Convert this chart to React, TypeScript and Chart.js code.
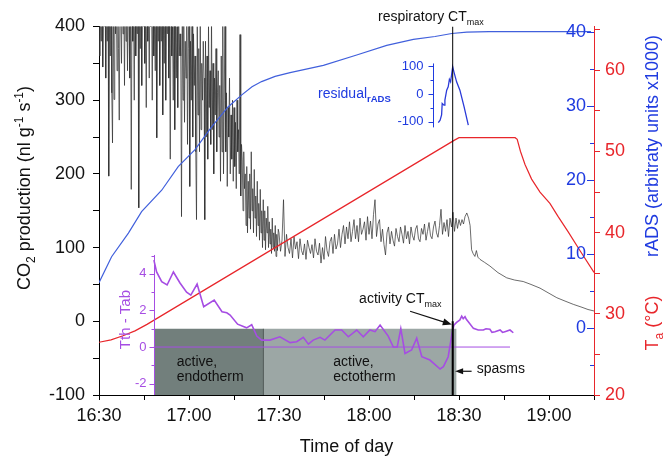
import React, { useEffect, useRef } from "react";
import { Chart, registerables } from "chart.js";

Chart.register(...registerables);

const FONT = "'Liberation Sans', Arial, Helvetica, sans-serif";

// ---- colours ----
const BLACK = "#111111";
const RED = "#e8262b";
const BLUE_TXT = "#1f3be0";
const BLUE_LINE = "#4160dc";
const PURPLE = "#a64de3";
const DARK_BOX = "#727f7c";
const LIGHT_BOX = "#9ca7a5";

// ---- x axis: minutes after 16:30 ----
const timeTickLabels = ["16:30", "17:00", "17:30", "18:00", "18:30", "19:00"];
const timeMax = 165;

// ---- CO2 production (nl g-1 s-1) ----
// 16:30-17:30, sampled every 0.25 min
const co2EarlyStart = 0;
const co2EarlyStep = 0.25;
const co2Early = [
  420, 360, 440, 380, 470, 345, 430, 400, 460, 330, 450, 380, 470, 197, 440, 360, 480, 310, 242, 450,
  301, 470, 390, 440, 340, 490, 370, 273, 460, 410, 350, 480, 390, 440, 320, 470, 380, 430, 340, 460,
  400, 330, 470, 179, 450, 380, 430, 300, 490, 360, 420, 390, 460, 154, 440, 370, 480, 320, 450, 400,
  470, 350, 430, 290, 480, 380, 440, 330, 470, 400, 450, 300, 490, 360, 420, 340, 460, 249, 440, 380,
  470, 320, 430, 380, 460, 280, 420, 350, 480, 300, 440, 390, 460, 330, 410, 220, 450, 360, 400, 300,
  440, 260, 420, 330, 400, 290, 450, 360, 390, 360, 142, 430, 300, 410, 270, 380, 330, 420, 240, 370,
  430, 183, 380, 300, 410, 250, 390, 320, 360, 230, 138, 400, 280, 370, 230, 410, 260, 350, 300, 380,
  330, 138, 380, 250, 360, 220, 400, 290, 340, 240, 410, 260, 350, 200, 330, 280, 370, 230, 310, 340,
  250, 320, 190, 360, 230, 420, 200, 300, 420, 230, 310, 183, 290, 250, 330, 200, 280, 220, 300, 190,
  290, 210, 270, 180, 300, 230, 260, 200, 389, 170, 240, 219, 150, 230, 180, 200, 130, 210, 120, 190,
  140, 200, 125, 230, 150, 180, 120, 206, 140, 170, 115, 190, 130, 160, 110, 179, 120, 150, 100, 165,
  110, 150, 97, 140, 120, 156, 100, 135, 105, 125, 92, 140, 100, 120, 95, 130, 88, 118, 96, 125,
];
// 17:30-18:30, sampled every 0.5 min
const co2LateStart = 60;
const co2LateStep = 0.5;
const co2Late = [
  120, 95, 110, 165, 88, 118, 100, 92, 112, 86,
  115, 98, 108, 85, 112, 96, 90, 105, 84, 110,
  100, 92, 104, 86, 112, 95, 90, 106, 79, 100,
  84, 115, 96, 88, 108, 114, 92, 118, 98, 105,
  125, 100, 118, 130, 105, 128, 112, 135, 108, 122,
  138, 112, 130, 108, 140, 118, 125, 135, 110, 142,
  118, 136, 112, 145, 165, 115, 132, 138, 108, 125,
  104, 90, 120, 128, 105, 122, 110, 102, 126, 115,
  108, 128, 118, 106, 130, 112, 122, 105, 128, 116,
  110, 125, 130, 112, 108, 126, 118, 132, 110, 122,
  134, 116, 112, 128, 136, 120, 114, 130, 152, 118,
  134, 122, 138, 115, 140, 128, 148, 122, 140, 126,
  138,
];
const co2TailTimes = [120.5, 121, 121.5, 122, 122.6, 123.2, 123.7, 124.2, 124.7, 125.3, 125.8, 126.3, 127, 128.5, 130.3, 133, 135.9, 138.5, 141.4, 144, 147, 150, 152.6, 155, 158.1, 161, 163, 165];
const co2TailValues = [130, 138, 132, 142, 147, 140, 130, 97, 92, 88, 96, 87, 84, 80, 75, 66, 59, 56, 54, 50, 45, 38, 32, 28, 23, 19, 16, 14];

// ---- rADS (arbitrary units x1000) ----
const radsTimes = [0, 4.2, 9.8, 14.2, 20.9, 26.4, 32, 37.6, 43.1, 47.6, 51, 54.2, 58.7, 63.7, 74.8, 85.9, 95.9, 104.8, 112, 117.6, 122.6, 130, 164];
const radsValues = [6.1, 9.6, 12.8, 15.7, 18.6, 21.8, 24.1, 27.2, 29.9, 31.5, 32.6, 33.3, 34.0, 34.5, 35.5, 36.9, 38.2, 39.0, 39.4, 39.8, 40.0, 40.05, 40.05];

// ---- ambient temperature Ta (°C) ----
const taTimes = [0, 4, 8, 12, 16, 118.5, 120, 138.7, 139.4, 140.5, 142, 144.2, 147, 150.3, 153, 156.4, 160.3, 165];
const taValues = [26.5, 26.8, 27.3, 27.9, 28.7, 51.4, 51.7, 51.7, 51.5, 50.0, 48.4, 46.6, 45.0, 43.6, 42.0, 40.1, 37.8, 35.1];

// ---- Tth - Tab ----
const dTTimes = [18.3, 19.2, 20.9, 22.7, 24.8, 27, 29.2, 30.6, 32.7, 34.9, 38.4, 41, 42.6, 43.7, 46.2, 49.2, 50.9, 52.6, 54.2, 57, 60.3, 63.7, 65.9, 68.1, 69.8, 71.4, 73.7, 75.3, 78.7, 80.9, 83.1, 85.9, 88.1, 90.3, 92, 93.7, 96.4, 98.1, 99.4, 100.6, 102, 104.2, 105.9, 107.6, 110.3, 113.7, 114.8, 116.4, 117.6, 118.3, 119.2, 120.3, 120.9, 121.4, 122, 122.5, 123.1, 124.8, 126.4, 128.1, 129, 130.3, 131, 132, 133.7, 134.5, 135.3, 137, 138.1];
const dTValues = [4.75, 4.1, 3.57, 3.39, 4.1, 3.5, 3.0, 2.84, 3.44, 2.2, 2.57, 1.93, 1.87, 1.75, 1.25, 1.05, 1.22, 0.6, 0.38, 0.38, 0.56, 0.24, 0.29, 0.53, 0.16, 0.38, 0.53, 0.38, 0.93, 0.93, 0.56, 0.93, 0.56, 0.93, 0.84, 1.2, 0.6, 0.0, 0.0, 1.0, -0.35, -0.16, 0.48, -0.53, -0.71, -1.2, -1.07, -0.53, 0.66, 1.2, 1.35, 1.48, 1.69, 1.55, 1.66, 1.5, 1.38, 1.02, 0.93, 0.93, 1.0, 0.97, 0.8, 0.84, 0.93, 0.8, 0.84, 0.93, 0.78];
const dTZeroSpan = [18.3, 137];
const dTAxisTime = 18.3;
const dTAxisTop = 5.03;
const dTTicks = [-2, 0, 2, 4];
const dTMinorTicks = [-1, 1, 3, 5];

// ---- residual rADS inset ----
const residTimes = [113.1, 113.7, 114.2, 114.4, 115, 115.3, 115.9, 116.4, 116.8, 117.2, 117.9, 118.3, 119.2, 120.3, 121.7, 123.1];
const residValues = [-103, -94, -75, -34, -40, -22, 14, 26, 53, 44, 98, 80, 44, 14, -46, -112];
const residAxisTime = 111.3;
const residAxisSpan = [-120, 110];
const residTicks = [-100, 0, 100];
const residMinorTicks = [-50, 50];

// ---- rADS right-hand ticks ----
const radsTicks = [0, 10, 20, 30, 40];
const radsMinorTicks = [-5, 5, 15, 25, 35];

// ---- events / phases ----
const ctmaxTime = 117.9;
const endothermPhase = [18.3, 54.8];
const ectothermPhase = [54.8, 119.2];
const phaseTop = 1.0;

type Seg = { t: string; size: number; dy?: number; bold?: boolean };

function segFont(s: Seg) {
  return `${s.bold ? "bold " : ""}${s.size}px ${FONT}`;
}
function richWidth(ctx: CanvasRenderingContext2D, segs: Seg[]) {
  let w = 0;
  for (const s of segs) {
    ctx.font = segFont(s);
    w += ctx.measureText(s.t).width;
  }
  return w;
}
function drawRich(ctx: CanvasRenderingContext2D, segs: Seg[], x: number, y: number, color: string, rot = 0, align: "left" | "center" = "left") {
  ctx.save();
  ctx.translate(x, y);
  if (rot) ctx.rotate(rot);
  ctx.fillStyle = color;
  ctx.textBaseline = "alphabetic";
  ctx.textAlign = "left";
  let cx = align === "center" ? -richWidth(ctx, segs) / 2 : 0;
  for (const s of segs) {
    ctx.font = segFont(s);
    ctx.fillText(s.t, cx, s.dy || 0);
    cx += ctx.measureText(s.t).width;
  }
  ctx.restore();
}
function arrow(ctx: CanvasRenderingContext2D, x1: number, y1: number, x2: number, y2: number, head = 9, w = 3.5) {
  const a = Math.atan2(y2 - y1, x2 - x1);
  const c = Math.cos(a), s = Math.sin(a);
  ctx.beginPath();
  ctx.moveTo(x1, y1);
  ctx.lineTo(x2 - head * c * 0.8, y2 - head * s * 0.8);
  ctx.stroke();
  ctx.beginPath();
  ctx.moveTo(x2, y2);
  ctx.lineTo(x2 - head * c + w * s, y2 - head * s - w * c);
  ctx.lineTo(x2 - head * c - w * s, y2 - head * s + w * c);
  ctx.closePath();
  ctx.fill();
}

const overlay = {
  id: "overlay",
  afterDraw(chart: any) {
    const { ctx, chartArea: ca, scales } = chart;
    const xs = scales.x, ys = scales.y, yB = scales.yB, yP = scales.yP, yR = scales.yR;
    const X = (t: number) => xs.getPixelForValue(t);
    const Y = (v: number) => ys.getPixelForValue(v);
    const hl = (x1: number, y: number, x2: number) => {
      const yy = Math.round(y) + 0.5;
      ctx.beginPath();
      ctx.moveTo(x1, yy);
      ctx.lineTo(x2, yy);
      ctx.stroke();
    };
    ctx.save();
    ctx.lineWidth = 1;

    // rADS axis (ticks pointing inward from the right axis line)
    ctx.strokeStyle = BLUE_TXT;
    ctx.fillStyle = BLUE_TXT;
    radsTicks.forEach((v) => hl(ca.right - 7, yB.getPixelForValue(v), ca.right));
    radsMinorTicks.forEach((v) => hl(ca.right - 4, yB.getPixelForValue(v), ca.right));
    ctx.font = `18px ${FONT}`;
    ctx.textAlign = "right";
    ctx.textBaseline = "middle";
    radsTicks.forEach((v) => ctx.fillText(String(v), ca.right - 8, yB.getPixelForValue(v)));

    // Tth - Tab inset axis
    const px = Math.round(X(dTAxisTime)) + 0.5;
    ctx.strokeStyle = PURPLE;
    ctx.fillStyle = PURPLE;
    ctx.beginPath();
    ctx.moveTo(px, yP.getPixelForValue(dTAxisTop));
    ctx.lineTo(px, ca.bottom);
    ctx.stroke();
    dTTicks.forEach((v) => hl(px - 5, yP.getPixelForValue(v), px));
    dTMinorTicks.forEach((v) => hl(px - 3, yP.getPixelForValue(v), px));
    ctx.font = `13px ${FONT}`;
    ctx.textAlign = "right";
    ctx.textBaseline = "middle";
    dTTicks.forEach((v) => ctx.fillText(String(v), px - 8, yP.getPixelForValue(v)));
    drawRich(ctx, [{ t: "Tth - Tab", size: 15 }], X(8.4) + 5.5, Y(2.3), PURPLE, -Math.PI / 2, "center");

    // residual inset axis
    const rx = Math.round(X(residAxisTime)) + 0.5;
    ctx.strokeStyle = BLUE_TXT;
    ctx.fillStyle = BLUE_TXT;
    ctx.beginPath();
    ctx.moveTo(rx, yR.getPixelForValue(residAxisSpan[1]));
    ctx.lineTo(rx, yR.getPixelForValue(residAxisSpan[0]));
    ctx.stroke();
    residTicks.forEach((v) => hl(rx - 5, yR.getPixelForValue(v), rx));
    residMinorTicks.forEach((v) => hl(rx - 3, yR.getPixelForValue(v), rx));
    ctx.font = `13px ${FONT}`;
    ctx.textAlign = "right";
    ctx.textBaseline = "middle";
    residTicks.forEach((v) => ctx.fillText(String(v), rx - 10, yR.getPixelForValue(v)));
    drawRich(ctx, [{ t: "residual", size: 14 }, { t: "rADS", size: 9.5, dy: 4, bold: true }], X(73), Y(303), BLUE_TXT);

    // annotations
    drawRich(ctx, [{ t: "respiratory CT", size: 14 }, { t: "max", size: 9, dy: 4 }], X(93), Y(407), BLACK);
    drawRich(ctx, [{ t: "activity CT", size: 14 }, { t: "max", size: 9, dy: 4 }], X(86.7), Y(25), BLACK);
    drawRich(ctx, [{ t: "spasms", size: 14 }], X(125.9), Y(-70), BLACK);
    drawRich(ctx, [{ t: "active,", size: 14 }], X(25.9), Y(-60), BLACK);
    drawRich(ctx, [{ t: "endotherm", size: 14 }], X(25.9), Y(-81.4), BLACK);
    drawRich(ctx, [{ t: "active,", size: 14 }], X(78.1), Y(-60), BLACK);
    drawRich(ctx, [{ t: "ectotherm", size: 14 }], X(78.1), Y(-81.4), BLACK);
    ctx.strokeStyle = BLACK;
    ctx.fillStyle = BLACK;
    ctx.lineWidth = 1.2;
    arrow(ctx, X(103.7), Y(13.6), X(117.6), Y(-4.5));
    arrow(ctx, X(124.2), Y(-67.8), X(118.7), Y(-67.8), 8, 3);

    // axis titles
    drawRich(
      ctx,
      [
        { t: "CO", size: 18 },
        { t: "2", size: 12, dy: 5 },
        { t: " production (nl g", size: 18 },
        { t: "-1", size: 12, dy: -7 },
        { t: " s", size: 18 },
        { t: "-1", size: 12, dy: -7 },
        { t: ")", size: 18 },
      ],
      30,
      188,
      BLACK,
      -Math.PI / 2,
      "center"
    );
    drawRich(ctx, [{ t: "rADS (arbitraty units x1000)", size: 18 }], 657.5, 146, BLUE_TXT, -Math.PI / 2, "center");
    drawRich(ctx, [{ t: "T", size: 18 }, { t: "a", size: 12, dy: 5 }, { t: " (°C)", size: 18 }], 657.5, 323, RED, -Math.PI / 2, "center");

    ctx.restore();
  },
};

function pts(times: number[], values: number[]) {
  return times.map((t, i) => ({ x: t, y: values[i] }));
}
function sampled(start: number, step: number, values: number[]) {
  return values.map((v, i) => ({ x: start + i * step, y: v }));
}

export default function App() {
  const ref = useRef<HTMLCanvasElement>(null);
  useEffect(() => {
    const co2Points = sampled(co2EarlyStart, co2EarlyStep, co2Early)
      .concat(sampled(co2LateStart, co2LateStep, co2Late))
      .concat(pts(co2TailTimes, co2TailValues));
    const common = { pointRadius: 0, pointHoverRadius: 0, tension: 0 };
    const chart = new Chart(ref.current as HTMLCanvasElement, {
      type: "line",
      data: {
        datasets: [
          { ...common, label: "endotherm", data: [{ x: endothermPhase[0], y: phaseTop }, { x: endothermPhase[1], y: phaseTop }], yAxisID: "yP", borderWidth: 0, borderColor: "rgba(0,0,0,0)", backgroundColor: DARK_BOX, fill: "start", order: 10 },
          { ...common, label: "ectotherm", data: [{ x: ectothermPhase[0], y: phaseTop }, { x: ectothermPhase[1], y: phaseTop }], yAxisID: "yP", borderWidth: 0, borderColor: "rgba(0,0,0,0)", backgroundColor: LIGHT_BOX, fill: "start", order: 9 },
          { ...common, label: "phase split", data: [{ x: endothermPhase[1], y: -2.62 }, { x: endothermPhase[1], y: phaseTop }], yAxisID: "yP", borderWidth: 1, borderColor: "#4c5553", order: 8 },
          { ...common, label: "CO2", data: co2Points, yAxisID: "y", borderColor: "rgba(45,45,45,0.7)", borderWidth: 1, order: 6 },
          { ...common, label: "rADS", data: pts(radsTimes, radsValues), yAxisID: "yB", borderColor: BLUE_LINE, borderWidth: 1.2, order: 5 },
          { ...common, label: "Ta", data: pts(taTimes, taValues), yAxisID: "yT", borderColor: RED, borderWidth: 1.2, order: 4 },
          { ...common, label: "zero", data: [{ x: dTZeroSpan[0], y: 0 }, { x: dTZeroSpan[1], y: 0 }], yAxisID: "yP", borderColor: PURPLE, borderWidth: 1, order: 3 },
          { ...common, label: "Tth-Tab", data: pts(dTTimes, dTValues), yAxisID: "yP", borderColor: PURPLE, borderWidth: 1.6, order: 2 },
          { ...common, label: "residual", data: pts(residTimes, residValues), yAxisID: "yR", borderColor: "#2a3ad8", borderWidth: 1.3, order: 1 },
          { ...common, label: "CTmax", data: [{ x: ctmaxTime, y: -100 }, { x: ctmaxTime, y: 400 }], yAxisID: "y", borderColor: "#000", borderWidth: 1, order: 0 },
          { ...common, label: "CTmax low", data: [{ x: ctmaxTime, y: -100 }, { x: ctmaxTime, y: 0 }], yAxisID: "y", borderColor: "#000", borderWidth: 2, order: 0 },
        ],
      },
      options: {
        responsive: false,
        devicePixelRatio: 1,
        animation: false,
        events: [],
        layout: { padding: { top: 26.5, left: 0, right: 0, bottom: 0 }, autoPadding: false },
        plugins: { legend: { display: false }, tooltip: { enabled: false }, title: { display: false } },
        scales: {
          x: {
            type: "linear",
            position: "bottom",
            min: 0,
            max: timeMax,
            ticks: {
              stepSize: 15,
              autoSkip: false,
              maxRotation: 0,
              includeBounds: false,
              padding: 5,
              color: BLACK,
              font: { size: 18, family: FONT },
              callback: (v: any) => (Math.round(v) % 30 === 0 ? timeTickLabels[Math.round(v) / 30] : ""),
            },
            grid: { drawOnChartArea: false, drawTicks: true, tickLength: 5, color: "#000" },
            border: { color: "#000", width: 1 },
            title: { display: true, text: "Time of day", color: BLACK, font: { size: 18, family: FONT }, padding: { top: 0, bottom: 9 } },
            afterFit: (s: any) => { s.height = 72; },
          },
          y: {
            type: "linear",
            position: "left",
            min: -100,
            max: 400,
            ticks: {
              stepSize: 50,
              autoSkip: false,
              includeBounds: false,
              padding: 8,
              color: BLACK,
              font: { size: 18, family: FONT },
              callback: (v: any) => (Math.round(v) % 100 === 0 ? String(Math.round(v)) : ""),
            },
            grid: { drawOnChartArea: false, drawTicks: true, tickLength: 6, color: "#000" },
            border: { color: "#000", width: 1 },
            afterFit: (s: any) => { s.width = 99; },
          },
          yT: {
            type: "linear",
            position: "right",
            min: 20,
            max: 65.4,
            ticks: {
              stepSize: 5,
              autoSkip: false,
              includeBounds: false,
              padding: 5,
              color: RED,
              font: { size: 18, family: FONT },
              callback: (v: any) => (Math.round(v) % 10 === 0 ? String(Math.round(v)) : ""),
            },
            grid: { drawOnChartArea: false, drawTicks: true, tickLength: 6, color: RED },
            border: { color: RED, width: 1 },
            afterFit: (s: any) => { s.width = 76; },
          },
          yB: { type: "linear", display: false, min: -9.1, max: 40.75 },
          yP: { type: "linear", display: false, min: -2.62, max: 17.51 },
          yR: { type: "linear", display: false, min: -1083, max: 243 },
        },
      } as any,
      plugins: [overlay],
    } as any);
    return () => chart.destroy();
  }, []);
  return (
    <div style={{ position: "absolute", left: 0, top: 0, width: 670, height: 467, background: "#fff" }}>
      <canvas ref={ref} width={670} height={467} style={{ display: "block" }} />
    </div>
  );
}
